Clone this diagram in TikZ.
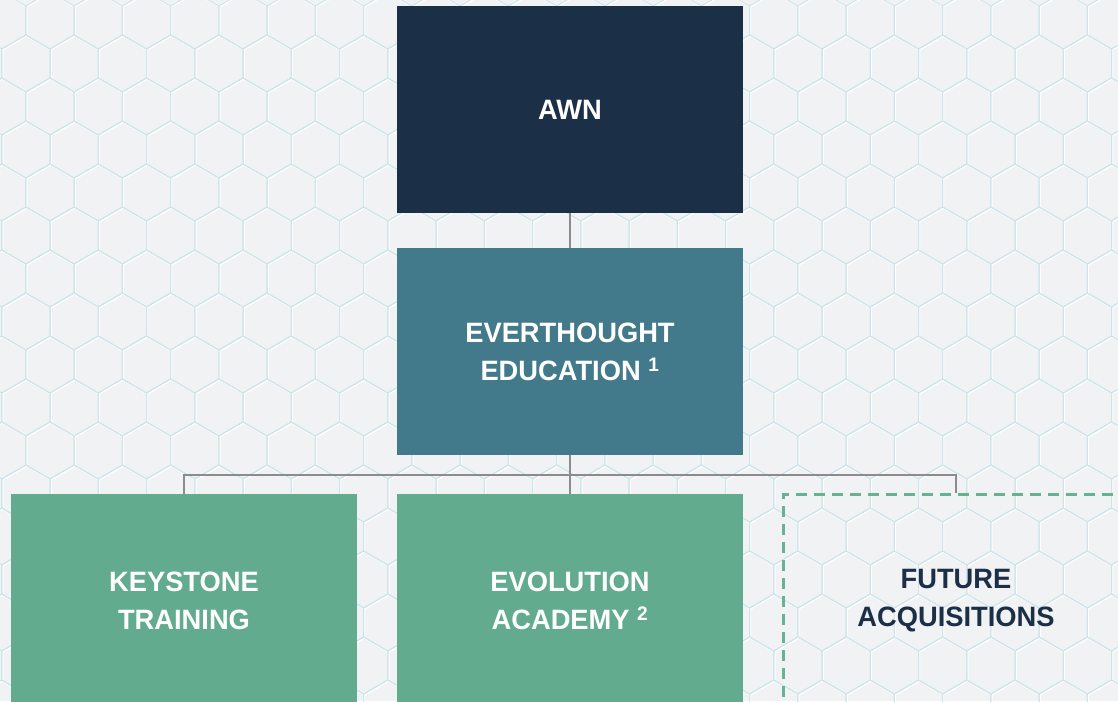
\documentclass[tikz,border=0pt]{standalone}
\usepackage{fontspec}
\newfontfamily\boxfont{Liberation Sans}[FakeStretch=0.975]
\definecolor{pagebg}{HTML}{F1F2F4}
\definecolor{hexline}{HTML}{CDE4EA}
\definecolor{navy}{HTML}{1B3047}
\definecolor{teal}{HTML}{427A8C}
\definecolor{sage}{HTML}{62AB8E}
\definecolor{dashgreen}{HTML}{68B192}
\definecolor{linkgray}{HTML}{8C8C8C}
\tikzset{
  orgbox/.style={minimum width=346pt, minimum height=207pt, inner sep=0pt,
    align=center, text=white,
    font=\boxfont\bfseries\fontsize{28}{38}\selectfont},
  lowbox/.style={orgbox, minimum height=214pt},
  link/.style={draw=linkgray, line width=1.4pt},
}
\begin{document}
\begin{tikzpicture}[x=1pt, y=-1pt]
\useasboundingbox (0,0) rectangle (1118,701);
\clip (0,0) rectangle (1118,701);
% background with hexagon tiling
\fill[pagebg] (0,0) rectangle (1118,701);
\foreach \r in {0,...,17}{
  \foreach \k in {-1,...,23}{
    \pgfmathsetmacro{\cx}{50 + 48.25*\k - 24.125*mod(\r,2)}
    \pgfmathsetmacro{\cy}{20.5 + 43*\r}
    \draw[white, line width=1.6pt, shift={(\cx+0.8,\cy+0.8)}]
      (0,-28.5) -- (24.125,-14.5) -- (24.125,14.5) -- (0,28.5)
      -- (-24.125,14.5) -- (-24.125,-14.5) -- cycle;
  }
}
\foreach \r in {0,...,17}{
  \foreach \k in {-1,...,23}{
    \pgfmathsetmacro{\cx}{50 + 48.25*\k - 24.125*mod(\r,2)}
    \pgfmathsetmacro{\cy}{20.5 + 43*\r}
    \draw[hexline, line width=1pt, shift={(\cx,\cy)}]
      (0,-28.5) -- (24.125,-14.5) -- (24.125,14.5) -- (0,28.5)
      -- (-24.125,14.5) -- (-24.125,-14.5) -- cycle;
  }
}
% organisation boxes
\node[orgbox, fill=navy] (awn) at (570,109.5) {AWN};
\node[orgbox, fill=teal] (ever) at (570,351.5) {EVERTHOUGHT\\EDUCATION \textsuperscript{1}};
\node[lowbox, fill=sage] (key) at (184,601) {KEYSTONE\\TRAINING};
\node[lowbox, fill=sage] (evo) at (570,601) {EVOLUTION\\ACADEMY \textsuperscript{2}};
\node[lowbox, draw=dashgreen, line width=3pt, dash pattern=on 11pt off 7pt,
      text=navy] (fut) at (956,601) {FUTURE\\ACQUISITIONS};
% connectors
\coordinate (bus) at (570,475);
\draw[link] (awn.south) -- (ever.north);
\draw[link] (ever.south) -- (bus);
\draw[link] (bus) -| (key.north);
\draw[link] (bus) -| (fut.north);
\draw[link] (bus) -- (evo.north);
\end{tikzpicture}
\end{document}
